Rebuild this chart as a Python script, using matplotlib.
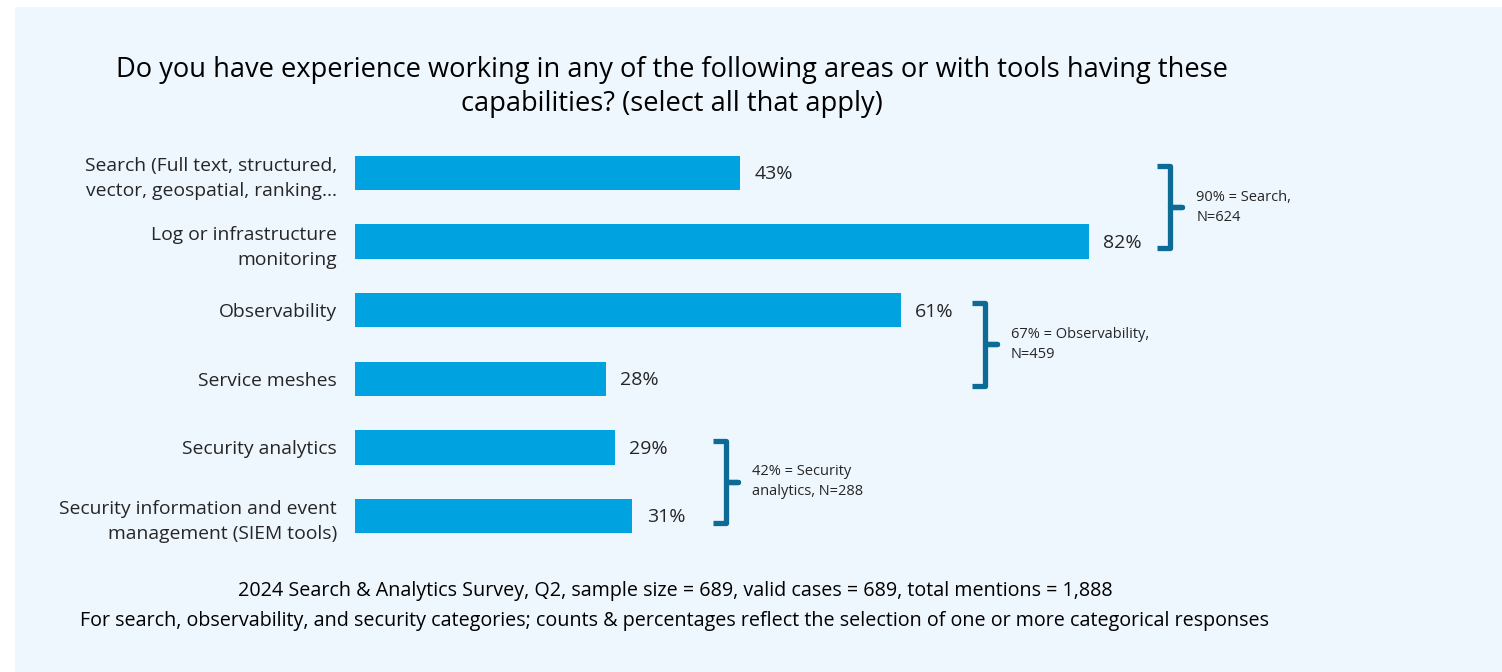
import matplotlib.pyplot as plt
from matplotlib.patches import Rectangle
from matplotlib.path import Path
from matplotlib.patches import PathPatch

plt.rcParams['font.family'] = ['Open Sans', 'DejaVu Sans']

# Data
categories = [
    "Search (Full text, structured,\nvector, geospatial, ranking...",
    "Log or infrastructure\nmonitoring",
    "Observability",
    "Service meshes",
    "Security analytics",
    "Security information and event\nmanagement (SIEM tools)",
]
values = [43, 82, 61, 28, 29, 31]

group_members = [(0, 1), (2, 3), (4, 5)]
group_totals = [90, 67, 42]
group_n = [624, 459, 288]
group_labels = ["{}% = Search,\nN={}", "{}% = Observability,\nN={}", "{}% = Security\nanalytics, N={}"]

title = "Do you have experience working in any of the following areas or with tools having these\ncapabilities? (select all that apply)"
footer = ("2024 Search & Analytics Survey, Q2, sample size = 689, valid cases = 689, total mentions = 1,888\n"
          "For search, observability, and security categories; counts & percentages reflect the selection of one or more categorical responses")

# Colours
bg = '#EEF6FE'
bar_color = '#00A3E0'
bracket_color = '#0D6C96'
text_color = '#262626'

# gap between the longest bar of a group and its bracket (x units)
bracket_gap = [7.6, 7.9, 9.0]

W, H = 1502, 672
fig = plt.figure(figsize=(W / 100, H / 100), dpi=100)
fig.patch.set_facecolor('white')
fig.patches.append(Rectangle((15 / W, 0), 1 - 15 / W, 1 - 7 / H, transform=fig.transFigure,
                             facecolor=bg, edgecolor='none', zorder=-5))

ax = fig.add_axes([355 / W, 1 - 550.3 / H, 895 / W, 411.6 / H])
ax.set_zorder(2)
ax.set_facecolor('none')
ypos = list(range(len(categories)))
ax.barh(ypos, values, height=0.5, color=bar_color)
ax.set_xlim(0, 100)
ax.set_ylim(len(categories) - 0.5, -0.5)
for s in ax.spines.values():
    s.set_visible(False)
ax.set_xticks([])
ax.set_yticks(ypos)
ax.set_yticklabels(categories, fontsize=13.9, color=text_color, linespacing=1.5)
ax.tick_params(axis='y', length=0, pad=13)

for y, v in zip(ypos, values):
    ax.text(v + 1.6, y + 0.02, f"{v}%", va='center', ha='left', fontsize=14, color=text_color)

# Group brackets
for (a, b), tot, n, lab, gap in zip(group_members, group_totals, group_n, group_labels, bracket_gap):
    top = a - 0.1
    bot = b + 0.1
    mid = (top + bot) / 2
    x0 = max(values[a], values[b]) + gap
    x1 = x0 + 1.5
    verts = [(x0, top), (x1, top), (x1, mid), (x1 + 1.3, mid), (x1, mid), (x1, bot), (x0, bot)]
    codes = [Path.MOVETO] + [Path.LINETO] * 6
    ax.add_patch(PathPatch(Path(verts, codes), fill=False, edgecolor=bracket_color,
                           linewidth=3.8, joinstyle='round', capstyle='butt', clip_on=False))
    ax.text(x0 + 4.4, mid, lab.format(tot, n), fontsize=10.5, color=text_color,
            va='center', ha='left', linespacing=1.45)

fig.text(672 / W, 1 - 87 / H, title, ha='center', va='center', fontsize=19.6,
         color='black', linespacing=1.3)
fig.text(675 / W, 1 - 606 / H, footer, ha='center', va='center', fontsize=14.2,
         color='black', linespacing=1.65)

fig.savefig('out.png', dpi=100, facecolor=fig.get_facecolor())
